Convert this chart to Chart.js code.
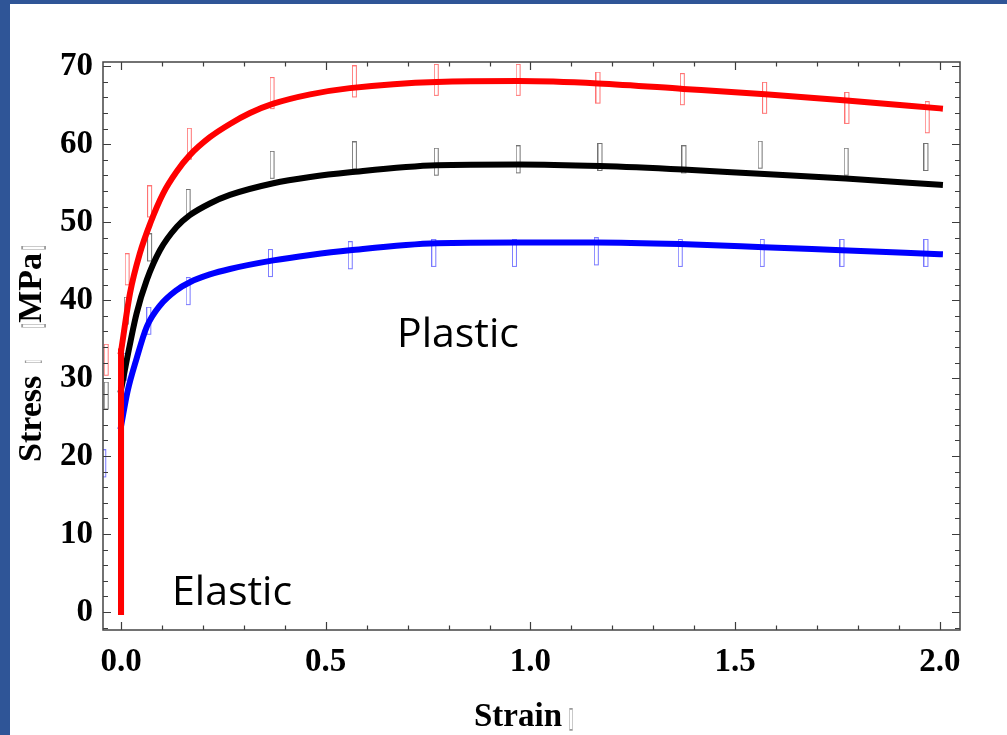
<!DOCTYPE html>
<html>
<head>
<meta charset="utf-8">
<title>Stress - Strain</title>
<script src="https://cdn.jsdelivr.net/npm/chart.js@4.4.1/dist/chart.umd.min.js"></script>
<style>
  html, body { margin: 0; padding: 0; background: #fff; }
  #wrap { position: relative; width: 1007px; height: 735px; background: #fff; overflow: hidden; }
  .band-left { position: absolute; left: 0; top: 0; width: 10px; height: 735px; background: #2f5597; }
  .band-top { position: absolute; left: 0; top: 0; width: 1007px; height: 4px; background: #2f5597; }
  canvas { position: absolute; left: 0; top: 0; }
</style>
</head>
<body>
<div id="wrap">
  <canvas id="stressChart" width="1007" height="735"></canvas>
  <div class="band-left"></div>
  <div class="band-top"></div>
</div>
<script>
// elastic part: straight up the strain = 0 line
const elasticX = [0, 0];
const redElasticY = [0, 33.4];
const blackElasticY = [0, 28.5];
const blueElasticY = [0, 23.8];

// plastic part of the fitted curves (strain, stress in MPa)
const redCurveX = [0, 0.022, 0.046, 0.071, 0.103, 0.136, 0.168, 0.217, 0.266, 0.315, 0.372, 0.462, 0.559, 0.771, 0.971, 1.165, 1.373, 1.573, 1.772, 2.0];
const redCurveY = [33.4, 40.9, 46.0, 49.8, 53.7, 56.5, 58.6, 60.9, 62.6, 64.0, 65.2, 66.4, 67.2, 68.0, 68.1, 67.8, 67.1, 66.4, 65.6, 64.6];

const blackCurveX = [0, 0.014, 0.038, 0.063, 0.095, 0.136, 0.168, 0.217, 0.266, 0.372, 0.462, 0.559, 0.771, 0.971, 1.17, 1.373, 1.56, 1.77, 2.0];
const blackCurveY = [28.5, 32.3, 38.3, 42.6, 46.4, 49.4, 50.9, 52.4, 53.5, 55.0, 55.8, 56.4, 57.3, 57.4, 57.2, 56.75, 56.2, 55.6, 54.8];

const blueCurveX = [0, 0.016, 0.038, 0.063, 0.095, 0.136, 0.168, 0.217, 0.266, 0.372, 0.462, 0.559, 0.771, 0.971, 1.16, 1.365, 1.57, 1.76, 2.0];
const blueCurveY = [23.8, 28.3, 32.5, 36.6, 39.3, 41.3, 42.3, 43.3, 44.0, 45.1, 45.8, 46.4, 47.3, 47.4, 47.4, 47.2, 46.8, 46.4, 45.9];

// measured points (box markers)
const redDataX = [-0.035, 0.016, 0.071, 0.168, 0.370, 0.571, 0.771, 0.971, 1.166, 1.372, 1.573, 1.774, 1.97];
const redDataY = [32.3, 43.9, 52.6, 60.0, 66.5, 68.0, 68.2, 68.2, 67.2, 67.0, 65.9, 64.6, 63.4];

const blackDataX = [-0.035, 0.014, 0.071, 0.165, 0.370, 0.571, 0.771, 0.971, 1.171, 1.376, 1.562, 1.772, 1.967];
const blackDataY = [27.7, 38.6, 46.7, 52.4, 57.3, 58.5, 57.7, 58.0, 58.3, 58.0, 58.6, 57.7, 58.3];

const blueDataX = [-0.041, 0.010, 0.069, 0.165, 0.366, 0.561, 0.765, 0.962, 1.162, 1.367, 1.567, 1.762, 1.967];
const blueDataY = [19.0, 31.4, 37.3, 41.1, 44.7, 45.7, 46.0, 46.0, 46.2, 46.0, 46.0, 46.0, 46.0];

// axes
const xTicks = [0, 0.5, 1, 1.5, 2];
const xMinorTicks = [0, 0.1, 0.2, 0.3, 0.4, 0.5, 0.6, 0.7, 0.8, 0.9, 1, 1.1, 1.2, 1.3, 1.4, 1.5, 1.6, 1.7, 1.8, 1.9, 2];
const yTicks = [0, 10, 20, 30, 40, 50, 60, 70];
const yMinorTicks = [-2, 0, 2, 4, 6, 8, 10, 12, 14, 16, 18, 20, 22, 24, 26, 28, 30, 32, 34, 36, 38, 40,
  42, 44, 46, 48, 50, 52, 54, 56, 58, 60, 62, 64, 66, 68, 70];

const xTitle = 'Strain';
const yTitle = 'Stress';
const yUnit = 'MPa';
const missingGlyph = '\u25AF';
const labelPlastic = 'Plastic';
const labelElastic = 'Elastic';

const serif = '"Liberation Serif", "Times New Roman", serif';

function toPoints(xs, ys) {
  return xs.map((x, i) => ({ x: x, y: ys[i] }));
}

// thin hollow box used as point marker
function boxMarker(color, h) {
  const c = document.createElement('canvas');
  c.width = 6;
  c.height = h + 1;
  const g = c.getContext('2d');
  g.strokeStyle = color;
  g.lineWidth = 1;
  g.strokeRect(0.5, 0.5, 4, h - 1);
  return c;
}

function markerSet(xs, ys, color, h) {
  return {
    data: toPoints(xs, ys),
    showLine: false,
    pointStyle: boxMarker(color, h),
    pointRadius: 3,
    order: 7
  };
}

function curveSet(xs, ys, color, order) {
  return {
    data: toPoints(xs, ys),
    showLine: true,
    borderColor: color,
    borderWidth: 6,
    borderCapStyle: 'square',
    borderJoinStyle: 'round',
    pointRadius: 0,
    cubicInterpolationMode: 'monotone',
    fill: false,
    order: order
  };
}

// frame with inward ticks on all four sides
const framePlugin = {
  id: 'frame',
  afterDatasetsDraw(chart) {
    const { ctx, chartArea: a, scales: { x, y } } = chart;
    ctx.save();
    ctx.strokeStyle = '#3c3c3c';
    ctx.lineWidth = 1.2;
    ctx.beginPath();
    xMinorTicks.forEach(v => {
      const px = Math.round(x.getPixelForValue(v)) + 0.5;
      const len = xTicks.includes(v) ? 8 : 4.5;
      ctx.moveTo(px, a.bottom); ctx.lineTo(px, a.bottom - len);
      ctx.moveTo(px, a.top); ctx.lineTo(px, a.top + len);
    });
    yMinorTicks.forEach(v => {
      const py = Math.round(y.getPixelForValue(v)) + 0.5;
      const len = yTicks.includes(v) ? 8 : 5;
      ctx.moveTo(a.left, py); ctx.lineTo(a.left + len, py);
      ctx.moveTo(a.right, py); ctx.lineTo(a.right - len, py);
    });
    ctx.stroke();
    ctx.lineWidth = 1.5;
    ctx.strokeStyle = '#444';
    ctx.strokeRect(a.left, a.top, a.right - a.left, a.bottom - a.top);
    ctx.restore();
  }
};

function drawBox(ctx, x, y, size) {
  ctx.save();
  ctx.translate(x, y);
  ctx.scale(0.3, 1);
  ctx.fillStyle = '#9a9a9a';
  ctx.font = size + 'px "DejaVu Sans"';
  ctx.textAlign = 'center';
  ctx.fillText(missingGlyph, 0, 0);
  ctx.restore();
}

// axis titles and region labels
const textPlugin = {
  id: 'texts',
  afterDraw(chart) {
    const ctx = chart.ctx;
    ctx.save();
    ctx.fillStyle = '#000';
    ctx.textBaseline = 'alphabetic';
    ctx.textAlign = 'left';

    ctx.font = 'bold 33px ' + serif;
    ctx.fillText(xTitle, 474, 726);
    const w = ctx.measureText(xTitle).width;
    drawBox(ctx, 474 + w + 9, 727, 30);

    ctx.save();
    ctx.translate(41, 462);
    ctx.rotate(-Math.PI / 2);
    ctx.font = 'bold 34px ' + serif;
    ctx.fillText(yTitle, 0, 0);
    const off = ctx.measureText(yTitle).width;
    drawBox(ctx, off + 14, -2, 22);
    drawBox(ctx, off + 50, 1, 32);
    ctx.font = 'bold 34px ' + serif;
    ctx.fillStyle = '#000';
    ctx.fillText(yUnit, off + 53, 0);
    const uw = ctx.measureText(yUnit).width;
    drawBox(ctx, off + 55 + uw + 3, 1, 32);
    ctx.restore();

    ctx.font = '41px "Open Sans", sans-serif';
    ctx.fillStyle = '#000';
    ctx.fillText(labelPlastic, 397, 347);
    ctx.fillText(labelElastic, 172, 605);
    ctx.restore();
  }
};

new Chart(document.getElementById('stressChart'), {
  type: 'scatter',
  data: {
    datasets: [
      curveSet(elasticX, redElasticY, '#ff0000', 1),
      curveSet(redCurveX, redCurveY, '#ff0000', 2),
      curveSet(elasticX, blackElasticY, '#000000', 3),
      curveSet(blackCurveX, blackCurveY, '#000000', 4),
      curveSet(elasticX, blueElasticY, '#0000ff', 5),
      curveSet(blueCurveX, blueCurveY, '#0000ff', 6),
      markerSet(redDataX, redDataY, 'rgba(255, 40, 40, 0.65)', 32),
      markerSet(blackDataX, blackDataY, 'rgba(0, 0, 0, 0.55)', 28),
      markerSet(blueDataX, blueDataY, 'rgba(30, 30, 255, 0.6)', 28)
    ]
  },
  options: {
    responsive: false,
    animation: false,
    layout: { padding: { top: 62, right: 47, left: 0, bottom: 0 } },
    plugins: {
      legend: { display: false },
      tooltip: { enabled: false },
      title: { display: false }
    },
    scales: {
      x: {
        type: 'linear',
        min: -0.044,
        max: 2.049,
        grid: { display: false, drawTicks: false },
        border: { display: false },
        afterBuildTicks: s => { s.ticks = xTicks.map(v => ({ value: v })); },
        afterFit: s => { s.height = 105; },
        ticks: {
          padding: 13,
          color: '#000',
          maxRotation: 0,
          font: { family: serif, size: 33, weight: 'bold' },
          callback: v => Number(v).toFixed(1)
        }
      },
      y: {
        type: 'linear',
        min: -2.31,
        max: 70.55,
        grid: { display: false, drawTicks: false },
        border: { display: false },
        afterBuildTicks: s => { s.ticks = yTicks.map(v => ({ value: v })); },
        afterFit: s => { s.width = 103; },
        ticks: {
          padding: 10,
          color: '#000',
          font: { family: serif, size: 33, weight: 'bold' },
          callback: v => String(v)
        }
      }
    }
  },
  plugins: [framePlugin, textPlugin]
});
</script>
</body>
</html>
